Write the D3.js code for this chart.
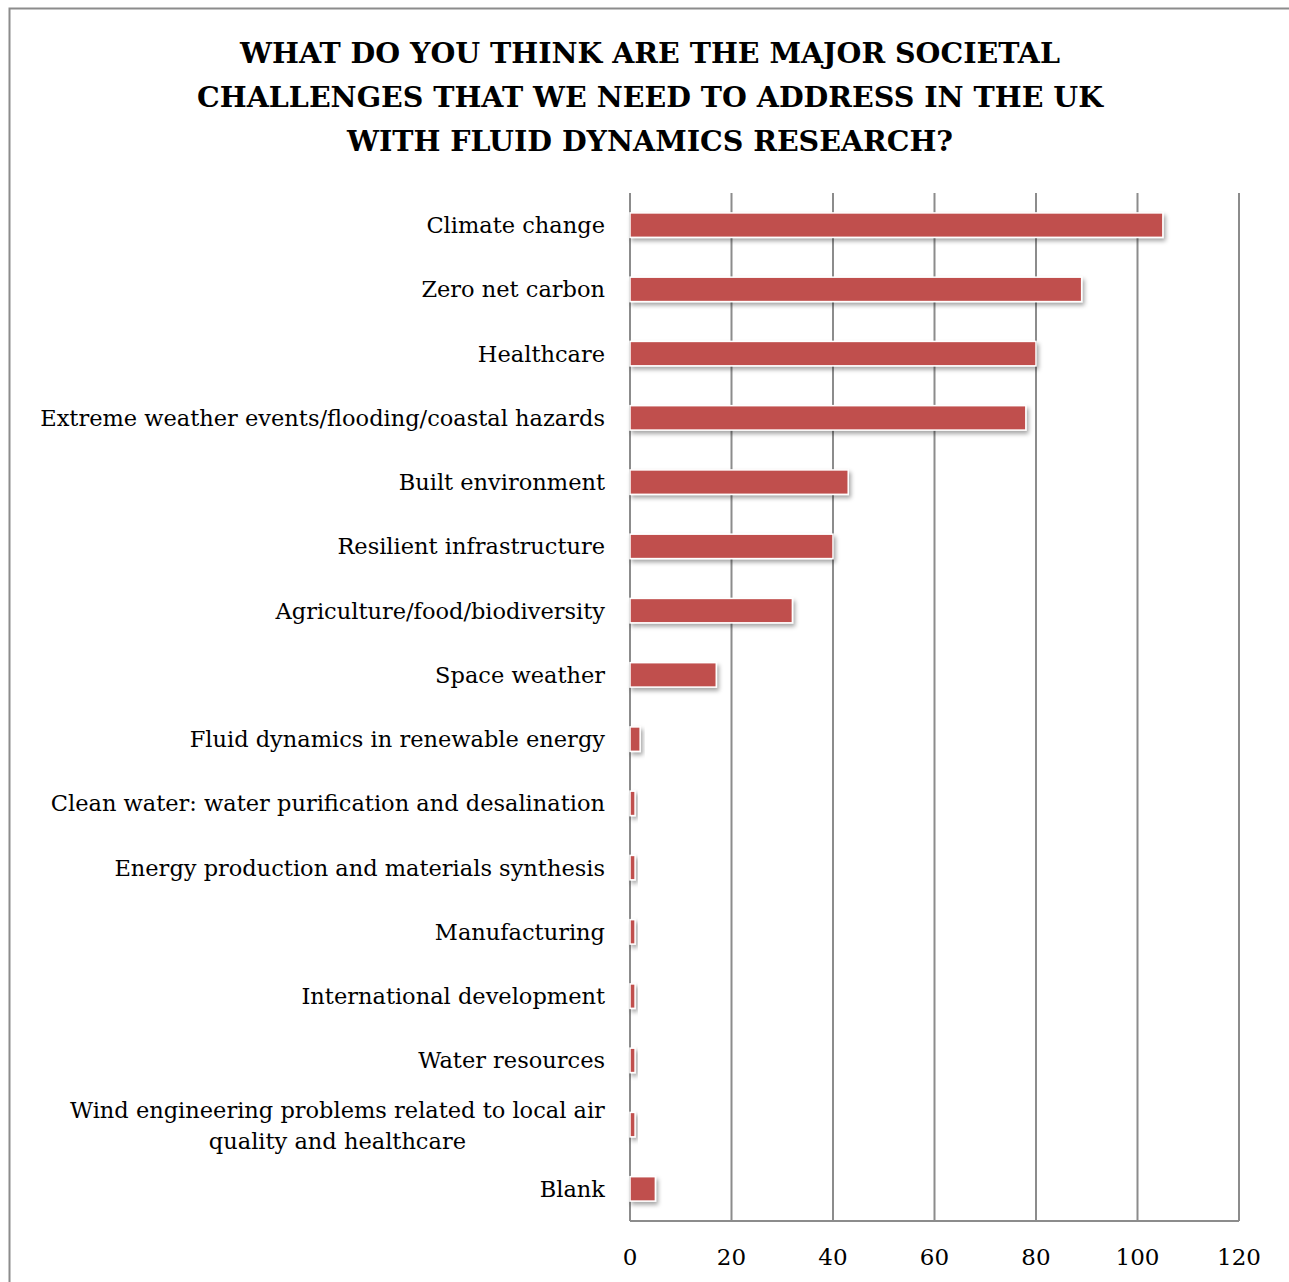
<!DOCTYPE html>
<html lang="en">
<head>
<meta charset="utf-8">
<title>Societal challenges</title>
<style>
body { margin: 0; background: #fff; }
#chart text { font-family: "DejaVu Serif", serif; fill: #000; }
.grid line { stroke: #8c8c8c; stroke-width: 2; }
</style>
</head>
<body>
<div id="chart"></div>
<script src="https://d3js.org/d3.v7.min.js"></script>
<script>

var categories = [
  "Climate change",
  "Zero net carbon",
  "Healthcare",
  "Extreme weather events/flooding/coastal hazards",
  "Built environment",
  "Resilient infrastructure",
  "Agriculture/food/biodiversity",
  "Space weather",
  "Fluid dynamics in renewable energy",
  "Clean water: water purification and desalination",
  "Energy production and materials synthesis",
  "Manufacturing",
  "International development",
  "Water resources",
  "Wind engineering problems related to local air|quality and healthcare",
  "Blank"
];
var counts = [105, 89, 80, 78, 43, 40, 32, 17, 2, 1, 1, 1, 1, 1, 1, 5];
var tickValues = [0, 20, 40, 60, 80, 100, 120];
var titleLines = [
  "WHAT DO YOU THINK ARE THE MAJOR SOCIETAL",
  "CHALLENGES THAT WE NEED TO ADDRESS IN THE UK",
  "WITH FLUID DYNAMICS RESEARCH?"
];

var W = 1289, H = 1282;
var margin = {top: 193, right: 50, bottom: 61, left: 630};
var width = W - margin.left - margin.right,
    height = H - margin.top - margin.bottom;

var svg = d3.select('#chart').append('svg')
  .attr('width', W).attr('height', H);

var defs = svg.append('defs');
var f = defs.append('filter').attr('id', 'shadow')
  .attr('x', '-20%').attr('y', '-40%').attr('width', '160%').attr('height', '200%');
f.append('feDropShadow').attr('dx', 2).attr('dy', 3).attr('stdDeviation', 2)
  .attr('flood-color', '#000').attr('flood-opacity', 0.35);

// outer frame
svg.append('rect')
  .attr('x', 9.5).attr('y', 8.5).attr('width', W + 20).attr('height', H + 20)
  .attr('fill', 'none').attr('stroke', '#8c8c8c').attr('stroke-width', 2);

// title
svg.append('text')
  .attr('text-anchor', 'middle')
  .style('font-weight', 'bold').style('font-size', '28.5px')
  .selectAll('tspan').data(titleLines).enter().append('tspan')
  .attr('x', 650).attr('y', function(d, i) { return 63 + i * 44; })
  .text(function(d) { return d; });

var x = d3.scaleLinear().domain([0, 120]).range([0, width]);
var y = d3.scaleBand().domain(categories).range([0, height]).paddingInner(0.62).paddingOuter(0.31);

var g = svg.append('g').attr('transform', 'translate(' + margin.left + ',' + margin.top + ')');

// vertical gridlines + axis frame
g.append('g').attr('class', 'grid')
  .selectAll('line').data(tickValues).enter().append('line')
  .attr('x1', function(d) { return x(d); }).attr('x2', function(d) { return x(d); })
  .attr('y1', 0).attr('y2', height);
g.append('line').attr('class', 'grid')
  .attr('x1', 0).attr('x2', width).attr('y1', height).attr('y2', height)
  .style('stroke', '#8c8c8c').style('stroke-width', 2);

// bars
g.selectAll('rect.bar').data(counts).enter().append('rect')
  .attr('class', 'bar')
  .attr('x', x(0))
  .attr('y', function(d, i) { return y(categories[i]); })
  .attr('width', function(d) { return x(d) - x(0); })
  .attr('height', y.bandwidth())
  .attr('fill', '#c0504d')
  .attr('stroke', '#fff').attr('stroke-width', 1.5)
  .attr('filter', 'url(#shadow)');

// category labels
var lbl = g.append('g').selectAll('text').data(categories).enter().append('text')
  .style('font-size', '22.5px')
  .attr('text-anchor', 'end')
  .attr('transform', function(d) { return 'translate(-25,' + (y(d) + y.bandwidth() / 2) + ')'; });
lbl.each(function(d) {
  var parts = d.split('|');
  var t = d3.select(this);
  if (parts.length === 1) {
    t.append('tspan').attr('x', 0).attr('dy', '0.35em').text(d);
  } else {
    t.attr('text-anchor', 'middle');
    parts.forEach(function(p, i) {
      t.append('tspan').attr('dy', i === 0 ? (-15 + 8) : 31).attr('x', 0).text(p);
    });
  }
});
// place wrapped label as block right-aligned
lbl.filter(function(d) { return d.indexOf('|') >= 0; }).each(function() {
  var w = this.getBBox().width;
  var t = d3.select(this);
  var tr = t.attr('transform').replace('translate(-25', 'translate(' + (-25 - w / 2));
  t.attr('transform', tr);
});

// x axis labels
g.append('g').selectAll('text').data(tickValues).enter().append('text')
  .attr('x', function(d) { return x(d); }).attr('y', height + 44)
  .attr('text-anchor', 'middle').style('font-size', '23px')
  .text(function(d) { return d; });
</script>
</body>
</html>
